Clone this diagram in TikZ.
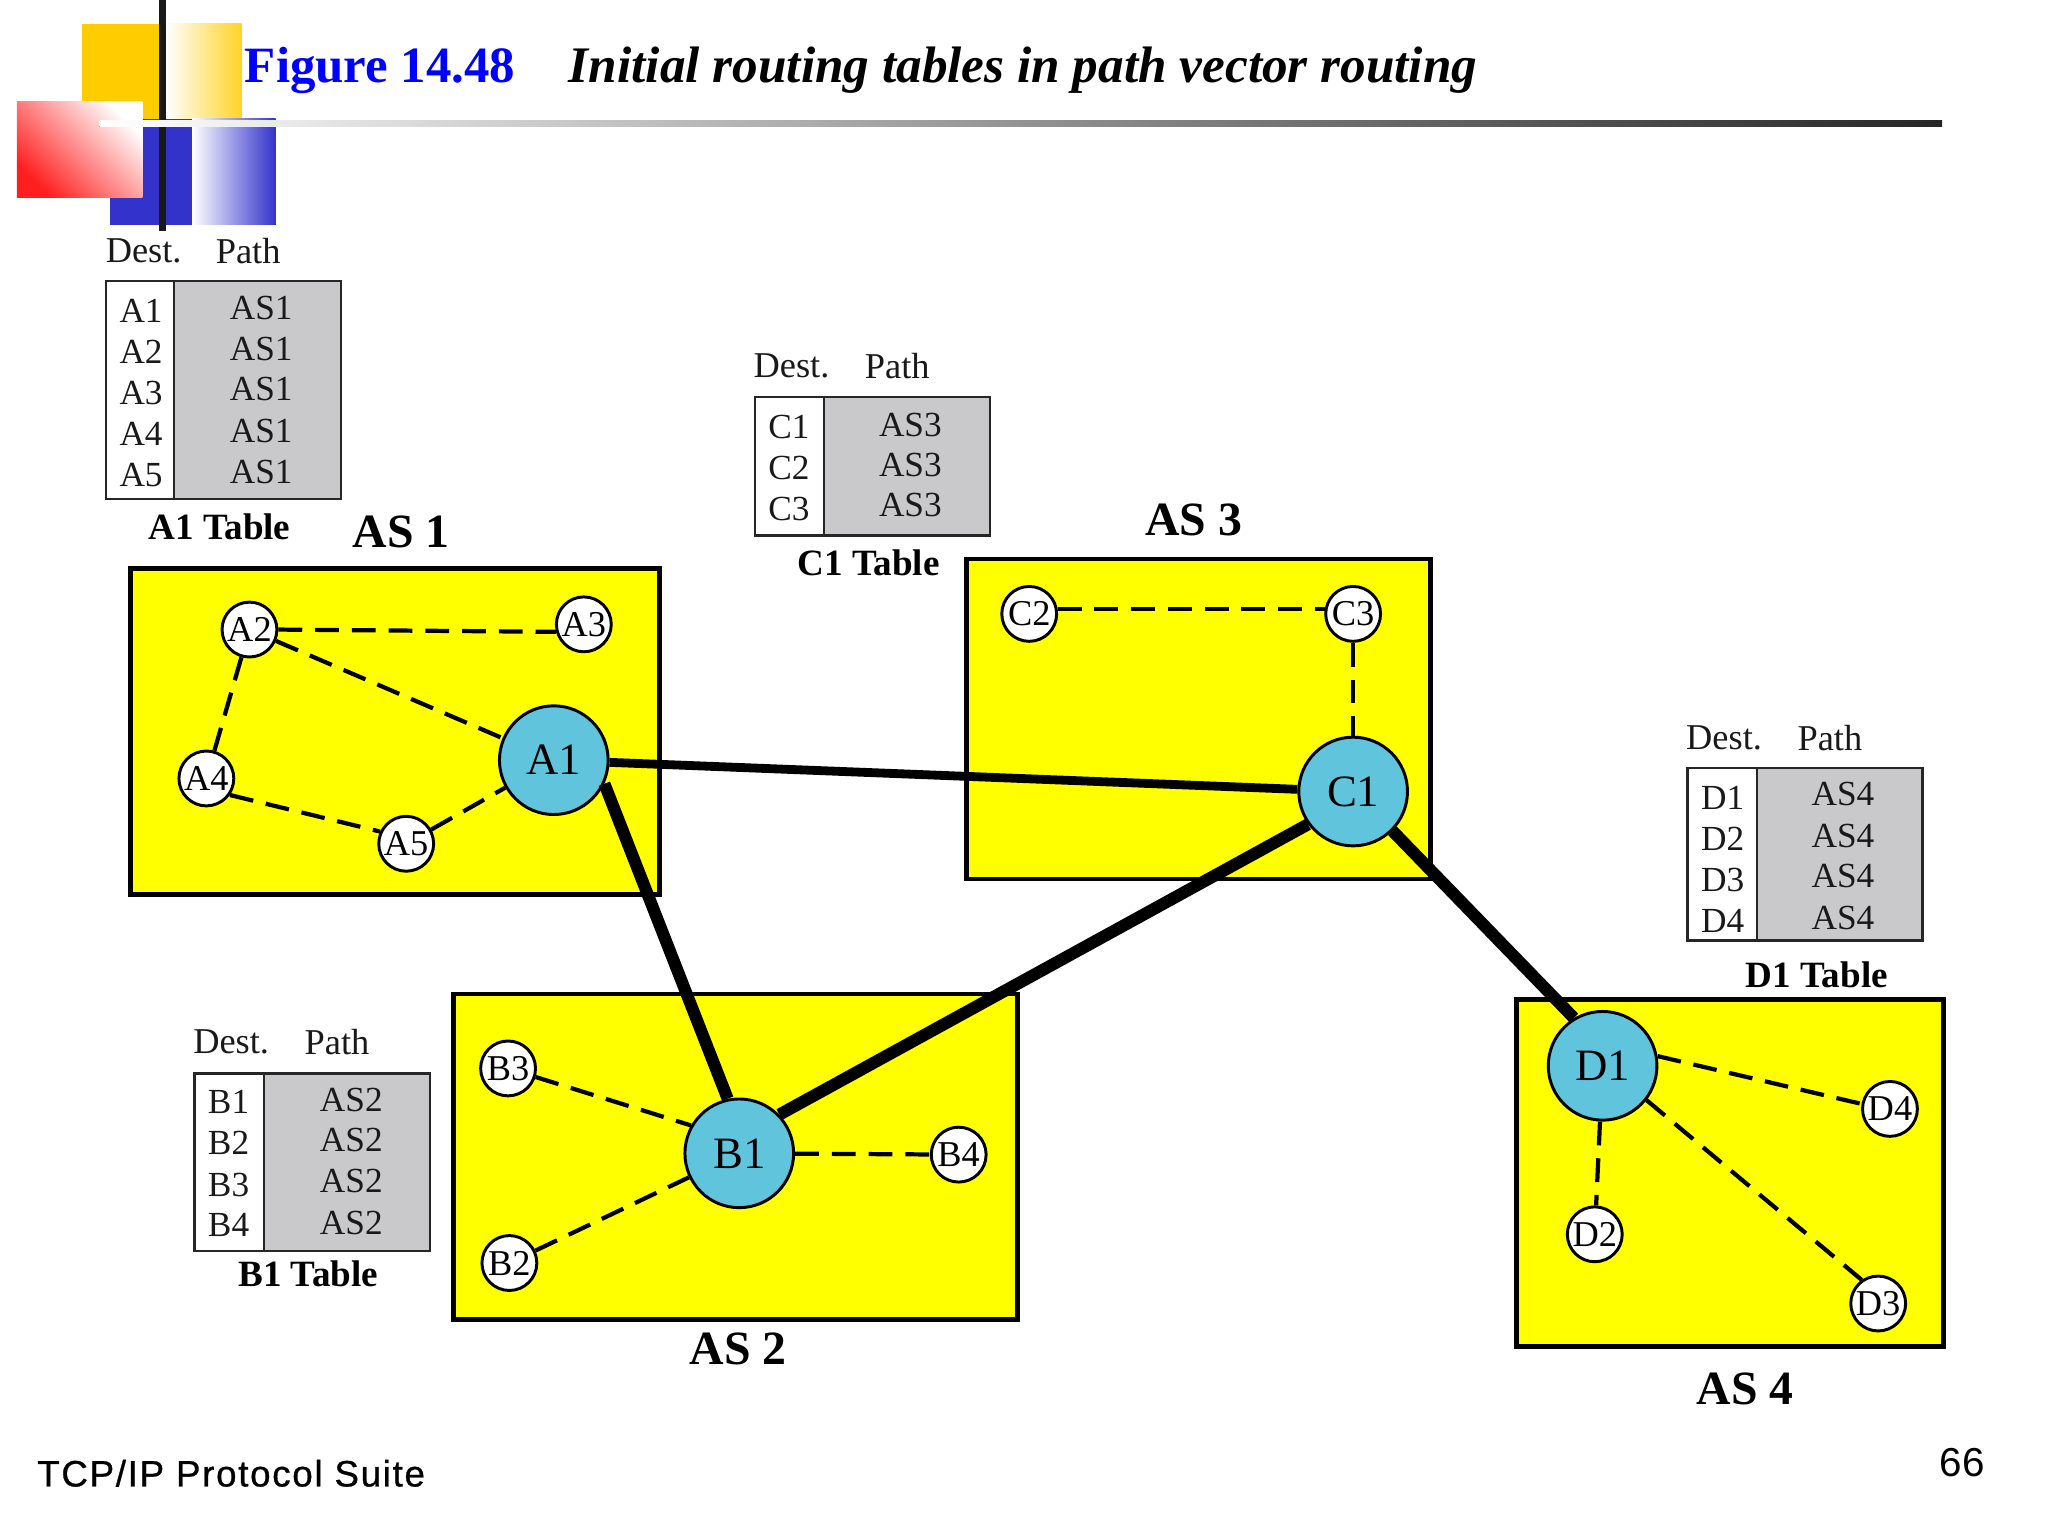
\documentclass[tikz,border=0pt]{standalone}
\usepackage{fontspec}
\setmainfont{Liberation Serif}
\newfontfamily\footfont[LetterSpace=4.6,FakeBold=0.8]{Liberation Sans}
\newfontfamily\pagefont{Liberation Sans}
\definecolor{slidegold}{HTML}{FFCC00}
\definecolor{slideblue}{HTML}{3333CC}
\definecolor{routerblue}{HTML}{5FC4DC}
\definecolor{pathgrey}{HTML}{C9C9CC}
\definecolor{asyellow}{RGB}{255,255,0}
\definecolor{slidered}{RGB}{255,0,0}
\definecolor{titleblue}{RGB}{0,0,255}
\tikzset{
	asbox/.style={draw=black, fill=asyellow, line width=1.3pt},
	bigrouter/.style={circle, draw=black, fill=routerblue, line width=0.8pt, minimum size=2.08cm*0.5, inner sep=0pt, font=\fontsize{12.2}{14}\selectfont},
	smallrouter/.style={circle, draw=black, fill=white, line width=0.8pt, minimum size=1.05cm*0.5, inner sep=0pt, font=\fontsize{9.9}{12}\selectfont},
	tablebox/.style={draw=black!85, line width=0.65pt},
	cell/.style={inner sep=0pt, text=black!90, font=\fontsize{9.6}{12}\selectfont},
	headcell/.style={cell, font=\fontsize{9.9}{12}\selectfont},
	tablename/.style={inner sep=0pt, font=\fontsize{10.1}{12}\selectfont\bfseries},
	asname/.style={inner sep=0pt, font=\fontsize{13}{15}\selectfont\bfseries},
	igp/.style={dash pattern=on 6.5pt off 3.5pt, line width=1.15pt},
	ebgp/.style={line width=3.3pt},
}

\begin{document}
\begin{tikzpicture}[x=0.0125cm, y=-0.0125cm]
	\useasboundingbox (0,0) rectangle (1568,1176);
	% corner decoration
	\fill[slidegold] (63,18) rectangle (122,91);
	\fill[left color=white, right color=slidegold!85] (127,18) rectangle (185,91);
	\fill[slideblue] (84,91) rectangle (147,172);
	\fill[left color=white, right color=slideblue] (147,91) rectangle (211,172);
	\fill[black!90] (122,0) rectangle (127,177);
	\fill[shading=axis, bottom color=slidered!88!white, middle color=slidered!45!white, top color=white, shading angle=-45] (13,78) rectangle (109,151);
	\fill[left color=white, right color=black!85] (76,92.5) rectangle (1487,97);
	% title
	\node[anchor=west, inner sep=0pt, text=titleblue, font=\fontsize{13.85}{16}\selectfont\bfseries] (figno) at (187,54) {Figure 14.48};
	\node[anchor=west, inner sep=0pt, font=\fontsize{13.95}{16}\selectfont\bfseries\itshape] (figtitle) at (435,54) {Initial routing tables in path vector routing};
	% autonomous systems
	\draw[asbox] (100,435) rectangle (505,685);
	\draw[asbox] (740,428) rectangle (1095,673);
	\draw[asbox] (347,761) rectangle (779,1010);
	\draw[asbox] (1161,765) rectangle (1488,1031);
	\node[asname] (as1) at (307,407) {AS 1};
	\node[asname] (as2) at (565,1033) {AS 2};
	\node[asname] (as3) at (914,398) {AS 3};
	\node[asname] (as4) at (1336,1063) {AS 4};
	% routers
	\node[bigrouter] (A1) at (424,582) {A1};
	\node[smallrouter] (A2) at (191,482) {A2};
	\node[smallrouter] (A3) at (447,478) {A3};
	\node[smallrouter] (A4) at (158,596) {A4};
	\node[smallrouter] (A5) at (311,646) {A5};
	\node[bigrouter] (B1) at (566,883) {B1};
	\node[smallrouter] (B2) at (390,967) {B2};
	\node[smallrouter] (B3) at (389,818) {B3};
	\node[smallrouter] (B4) at (734,884) {B4};
	\node[bigrouter] (C1) at (1036,606) {C1};
	\node[smallrouter] (C2) at (788,470) {C2};
	\node[smallrouter] (C3) at (1036,470) {C3};
	\node[bigrouter] (D1) at (1227,816) {D1};
	\node[smallrouter] (D2) at (1221,945) {D2};
	\node[smallrouter] (D3) at (1438,998) {D3};
	\node[smallrouter] (D4) at (1447,849) {D4};
	% links inside each AS
	\draw[igp] (A2.0) -- (A3.195);
	\draw[igp] (A2) -- (A1);
	\draw[igp] (A2) -- (A4);
	\draw[igp] (A4.-35) -- (A5.155);
	\draw[igp] (A5) -- (A1);
	\draw[igp] (B3) -- (B1.150);
	\draw[igp] (B2) -- (B1);
	\draw[igp] (B1) -- (B4);
	\draw[igp] (C2.10) -- (C3.170);
	\draw[igp] (C3) -- (C1);
	\draw[igp] (D1.10) -- (D4.170);
	\draw[igp] (D1) -- (D2);
	\draw[igp] (D1.-38) -- (D3.125);
	% links between the speakers
	\draw[ebgp, line width=2.4pt] (A1) -- (C1);
	\draw[ebgp] (A1.-25) -- (B1.102);
	\draw[ebgp] (B1.44) -- (C1.216);
	\draw[ebgp] (C1.-45) -- (D1.121);
	% A1 table
	\fill[pathgrey] (133,215) rectangle (261,382);
	\draw[tablebox] (81,215) rectangle (261,382);
	\draw[tablebox] (133,215) -- (133,382);
	\node[headcell] (adest) at (110,192) {Dest.};
	\node[headcell] (apath) at (190,192) {Path};
	\node[cell] (ad1) at (108,238) {A1};
	\node[cell] (ad2) at (108,269) {A2};
	\node[cell] (ad3) at (108,301) {A3};
	\node[cell] (ad4) at (108,332) {A4};
	\node[cell] (ad5) at (108,364) {A5};
	\node[cell] (ap1) at (200,236) {AS1};
	\node[cell] (ap2) at (200,267) {AS1};
	\node[cell] (ap3) at (200,298) {AS1};
	\node[cell] (ap4) at (200,330) {AS1};
	\node[cell] (ap5) at (200,361) {AS1};
	\node[tablename] (aname) at (168,403) {A1 Table};
	% C1 table
	\fill[pathgrey] (631,304) rectangle (758,410);
	\draw[tablebox] (578,304) rectangle (758,410);
	\draw[tablebox] (631,304) -- (631,410);
	\node[headcell] (cdest) at (606,280) {Dest.};
	\node[headcell] (cpath) at (687,280) {Path};
	\node[cell] (cd1) at (604,327) {C1};
	\node[cell] (cd2) at (604,358) {C2};
	\node[cell] (cd3) at (604,390) {C3};
	\node[cell] (cp1) at (697,325) {AS3};
	\node[cell] (cp2) at (697,356) {AS3};
	\node[cell] (cp3) at (697,387) {AS3};
	\node[tablename] (cname) at (665,431) {C1 Table};
	% D1 table
	\fill[pathgrey] (1345,588) rectangle (1472,720);
	\draw[tablebox] (1292,588) rectangle (1472,720);
	\draw[tablebox] (1345,588) -- (1345,720);
	\node[headcell] (ddest) at (1320,565) {Dest.};
	\node[headcell] (dpath) at (1401,565) {Path};
	\node[cell] (dd1) at (1319,611) {D1};
	\node[cell] (dd2) at (1319,642) {D2};
	\node[cell] (dd3) at (1319,674) {D3};
	\node[cell] (dd4) at (1319,705) {D4};
	\node[cell] (dp1) at (1411,608) {AS4};
	\node[cell] (dp2) at (1411,640) {AS4};
	\node[cell] (dp3) at (1411,671) {AS4};
	\node[cell] (dp4) at (1411,703) {AS4};
	\node[tablename] (dname) at (1391,746) {D1 Table};
	% B1 table
	\fill[pathgrey] (202,822) rectangle (329,958);
	\draw[tablebox] (149,822) rectangle (329,958);
	\draw[tablebox] (202,822) -- (202,958);
	\node[headcell] (bdest) at (177,798) {Dest.};
	\node[headcell] (bpath) at (258,798) {Path};
	\node[cell] (bd1) at (175,844) {B1};
	\node[cell] (bd2) at (175,875) {B2};
	\node[cell] (bd3) at (175,907) {B3};
	\node[cell] (bd4) at (175,938) {B4};
	\node[cell] (bp1) at (269,842) {AS2};
	\node[cell] (bp2) at (269,873) {AS2};
	\node[cell] (bp3) at (269,904) {AS2};
	\node[cell] (bp4) at (269,936) {AS2};
	\node[tablename] (bname) at (236,975) {B1 Table};
	% footer
	\node[anchor=west, inner sep=0pt, font=\fontsize{10}{12}\footfont] (suite) at (28,1128) {TCP/IP Protocol Suite};
	\node[anchor=east, inner sep=0pt, font=\fontsize{11}{12}\pagefont] (pageno) at (1520,1120) {66};
\end{tikzpicture}
\end{document}
